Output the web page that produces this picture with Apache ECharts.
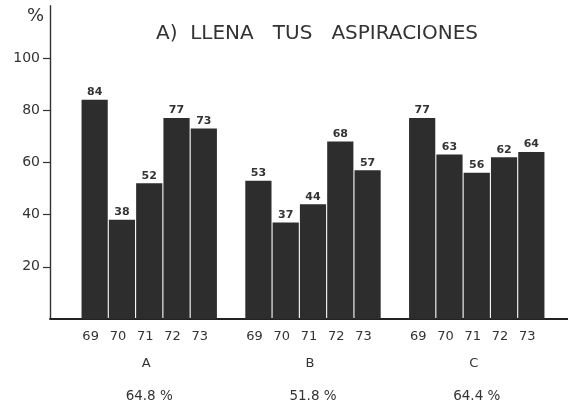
<!DOCTYPE html>
<html>
<head>
<meta charset="utf-8">
<script src="https://cdn.jsdelivr.net/npm/echarts@6/dist/echarts.min.js"></script>
<style>
  html, body { margin: 0; padding: 0; background: #fff; }
  #chart { width: 568px; height: 406px; }
</style>
</head>
<body>
<div id="chart"></div>
<script>
// Survey results by group and year
const groups = ['A', 'B', 'C'];
const years = ['69', '70', '71', '72', '73'];
const valuesA = [84, 38, 52, 77, 73];
const valuesB = [53, 37, 44, 68, 57];
const valuesC = [77, 63, 56, 62, 64];
const groupShares = ['64.8 %', '51.8 %', '64.4 %'];
const yTicks = [20, 40, 60, 80, 100];

const groupValues = [valuesA, valuesB, valuesC];

// One slot per bar, with an empty slot before the first group and between groups
const slotYears = [];
const slotGroups = [];
const slotShares = [];
const slotValues = [];
groupValues.forEach((vals, g) => {
  slotYears.push('');
  slotGroups.push('');
  slotShares.push('');
  slotValues.push('-');
  vals.forEach((v, i) => {
    slotYears.push(years[i]);
    slotGroups.push(i === 2 ? groups[g] : '');
    slotShares.push(i === 2 ? groupShares[g] : '');
    slotValues.push(v);
  });
});

const ink = '#333333';
const font = 'DejaVu Sans';

const chart = echarts.init(document.getElementById('chart'), null, { renderer: 'canvas' });

const labelAxis = (data, margin, size, pad) => ({
  type: 'category',
  gridIndex: 1,
  data: data,
  position: 'bottom',
  axisLine: { show: false },
  axisTick: { show: false },
  splitLine: { show: false },
  axisLabel: {
    interval: 0,
    margin: margin,
    color: ink,
    fontFamily: font,
    fontSize: size,
    padding: pad
  }
});

chart.setOption({
  animation: false,
  backgroundColor: '#ffffff',
  title: [
    {
      text: 'A)  LLENA   TUS   ASPIRACIONES',
      left: 312,
      top: 19,
      textAlign: 'center',
      textStyle: { color: ink, fontFamily: font, fontSize: 20, fontWeight: 'normal' }
    },
    {
      text: '%',
      left: 22,
      top: 2,
      textStyle: { color: ink, fontFamily: font, fontSize: 18, fontWeight: 'normal' }
    }
  ],
  grid: [
    { left: 50, right: 0, top: 5.8, bottom: 87 },
    { left: 53.7, right: 23, top: 5.8, bottom: 87 }
  ],
  xAxis: [
    {
      type: 'category',
      gridIndex: 0,
      data: [''],
      axisLine: { show: true, lineStyle: { color: '#222', width: 1.8 } },
      axisTick: { show: false },
      axisLabel: { show: false }
    },
    labelAxis(slotYears, 11, 13, [0, 8, 0, 0]),
    labelAxis(slotGroups, 38, 13, [0, 6, 0, 0]),
    labelAxis(slotShares, 70, 13.5, [0, 0, 0, 0])
  ],
  yAxis: [
    {
      type: 'value',
      gridIndex: 0,
      min: 0,
      max: 120,
      interval: 20,
      axisLine: { show: true, lineStyle: { color: '#333', width: 1.4 } },
      axisTick: {
        show: true,
        length: 7,
        customValues: yTicks,
        lineStyle: { color: '#333', width: 1.2 }
      },
      axisLabel: {
        customValues: yTicks,
        margin: 10,
        color: ink,
        fontFamily: font,
        fontSize: 14
      },
      splitLine: { show: false }
    },
    {
      type: 'value',
      gridIndex: 1,
      min: 0,
      max: 120,
      show: false
    }
  ],
  series: [
    {
      type: 'bar',
      xAxisIndex: 1,
      yAxisIndex: 1,
      data: slotValues,
      barCategoryGap: '4%',
      itemStyle: { color: '#2d2d2d' },
      label: {
        show: true,
        position: 'top',
        distance: 2,
        color: ink,
        fontFamily: font,
        fontSize: 11,
        fontWeight: 'bold'
      }
    }
  ]
});
</script>
</body>
</html>
